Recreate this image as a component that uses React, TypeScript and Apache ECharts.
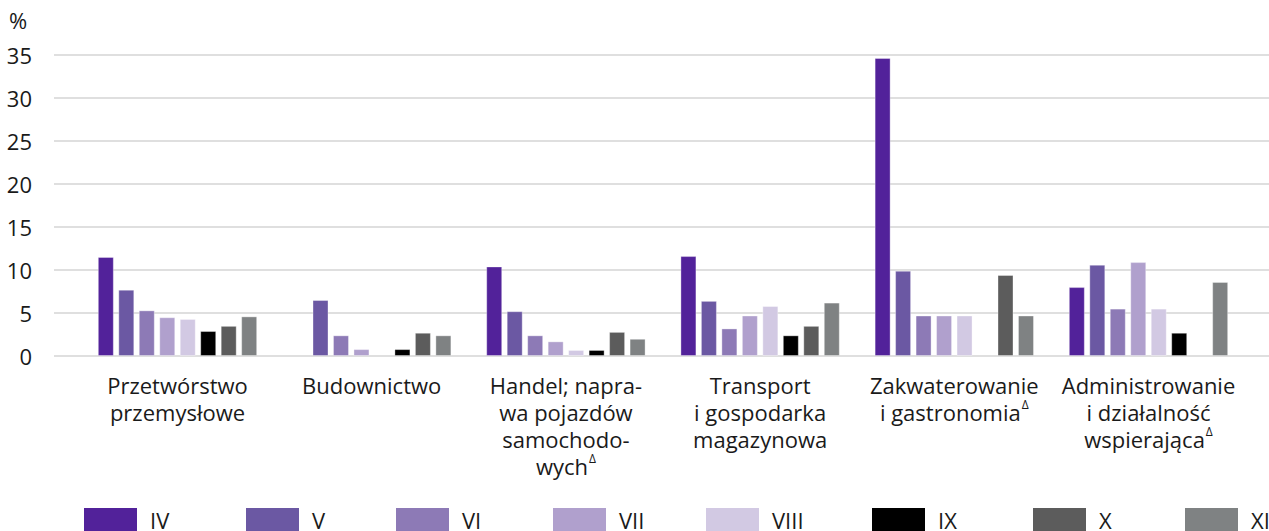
import React, { useEffect, useRef } from "react";
import * as echarts from "echarts";

const categories = [
  "Przetwórstwo\nprzemysłowe",
  "Budownictwo",
  "Handel; napra-\nwa pojazdów\nsamochodo-\nwych{sup|Δ}",
  "Transport\ni gospodarka\nmagazynowa",
  "Zakwaterowanie\ni gastronomia{sup|Δ}",
  "Administrowanie\ni działalność\nwspierająca{sup|Δ}",
];

const seriesNames = ["IV", "V", "VI", "VII", "VIII", "IX", "X", "XI"];
const seriesColors = ["#52229a", "#6b58a3", "#8d7ab6", "#b0a0cd", "#d2c9e3", "#000000", "#5c5c5c", "#7f8283"];

const IV = [11.5, null, 10.4, 11.6, 34.6, 8.0];
const V = [7.7, 6.5, 5.2, 6.4, 9.9, 10.6];
const VI = [5.3, 2.4, 2.4, 3.2, 4.7, 5.5];
const VII = [4.5, 0.8, 1.7, 4.7, 4.7, 10.9];
const VIII = [4.3, null, 0.7, 5.8, 4.7, 5.5];
const IX = [2.9, 0.8, 0.7, 2.4, null, 2.7];
const X = [3.5, 2.7, 2.8, 3.5, 9.4, null];
const XI = [4.6, 2.4, 2.0, 6.2, 4.7, 8.6];

const seriesValues = [IV, V, VI, VII, VIII, IX, X, XI];

const yTicks = { min: 0, max: 35, interval: 5 };

// layout: left edge of each legend swatch
const legendLefts = [84, 246, 396, 553, 706, 872, 1033, 1185];

const FONT = "'Open Sans', 'Noto Sans', sans-serif";
const TEXT_COLOR = "#1a1a1a";

export default function App() {
  const ref = useRef<HTMLDivElement>(null);

  useEffect(() => {
    if (!ref.current) return;
    const chart = echarts.init(ref.current, undefined, { renderer: "svg" });
    const top = 54.5;
    const bottom = 175;
    chart.setOption({
      animation: false,
      backgroundColor: "#ffffff",
      textStyle: { fontFamily: FONT, color: TEXT_COLOR },
      grid: [
        { left: 80.4, right: 23.4, top, bottom, containLabel: false },
        { left: 54, right: 0, top, bottom, containLabel: false },
      ],
      xAxis: [
        {
          type: "category",
          gridIndex: 0,
          data: categories,
          axisLine: { show: false },
          axisTick: { show: false },
          axisLabel: {
            interval: 0,
            margin: 15,
            fontSize: 22,
            lineHeight: 27,
            fontFamily: FONT,
            color: TEXT_COLOR,
            align: "center",
            rich: {
              sup: {
                fontSize: 12,
                fontFamily: FONT,
                color: TEXT_COLOR,
                verticalAlign: "top",
                lineHeight: 27,
                padding: [0, 0, 10, 1],
              },
            },
          },
        },
        {
          type: "value",
          gridIndex: 1,
          show: false,
          min: 0,
          max: 1,
        },
      ],
      yAxis: [
        {
          type: "value",
          gridIndex: 0,
          min: yTicks.min,
          max: yTicks.max,
          interval: yTicks.interval,
          axisLabel: { show: false },
          axisLine: { show: false },
          axisTick: { show: false },
          splitLine: { show: false },
        },
        {
          type: "value",
          gridIndex: 1,
          min: yTicks.min,
          max: yTicks.max,
          interval: yTicks.interval,
          axisLine: { show: false },
          axisTick: { show: false },
          axisLabel: {
            margin: 22,
            fontSize: 22,
            fontFamily: FONT,
            color: TEXT_COLOR,
          },
          splitLine: { show: true, lineStyle: { color: "#d4d4d4", width: 1.5 } },
        },
      ],
      legend: seriesNames.map((name, i) => ({
        left: legendLefts[i],
        top: 507,
        padding: 0,
        itemWidth: 53,
        itemHeight: 24,
        icon: "rect",
        itemStyle: { borderWidth: 0 },
        textStyle: {
          fontSize: 22,
          lineHeight: 24,
          fontFamily: FONT,
          color: TEXT_COLOR,
          padding: [0, 0, 2, 8],
        },
        data: [name],
      })),
      graphic: [
        {
          type: "text",
          left: 9,
          top: 9,
          style: { text: "%", fontSize: 22, fontFamily: FONT, fill: TEXT_COLOR },
        },
      ],
      series: seriesNames.map((name, i) => ({
        name,
        type: "bar",
        xAxisIndex: 0,
        yAxisIndex: 0,
        data: seriesValues[i],
        barWidth: 16,
        barGap: "28%",
        itemStyle: {
          color: seriesColors[i],
          borderColor: "rgba(255,255,255,0.35)",
          borderWidth: 1,
        },
      })),
    });
    return () => chart.dispose();
  }, []);

  return (
    <div
      ref={ref}
      style={{ position: "absolute", left: 0, top: 0, width: 1269, height: 531 }}
    />
  );
}
